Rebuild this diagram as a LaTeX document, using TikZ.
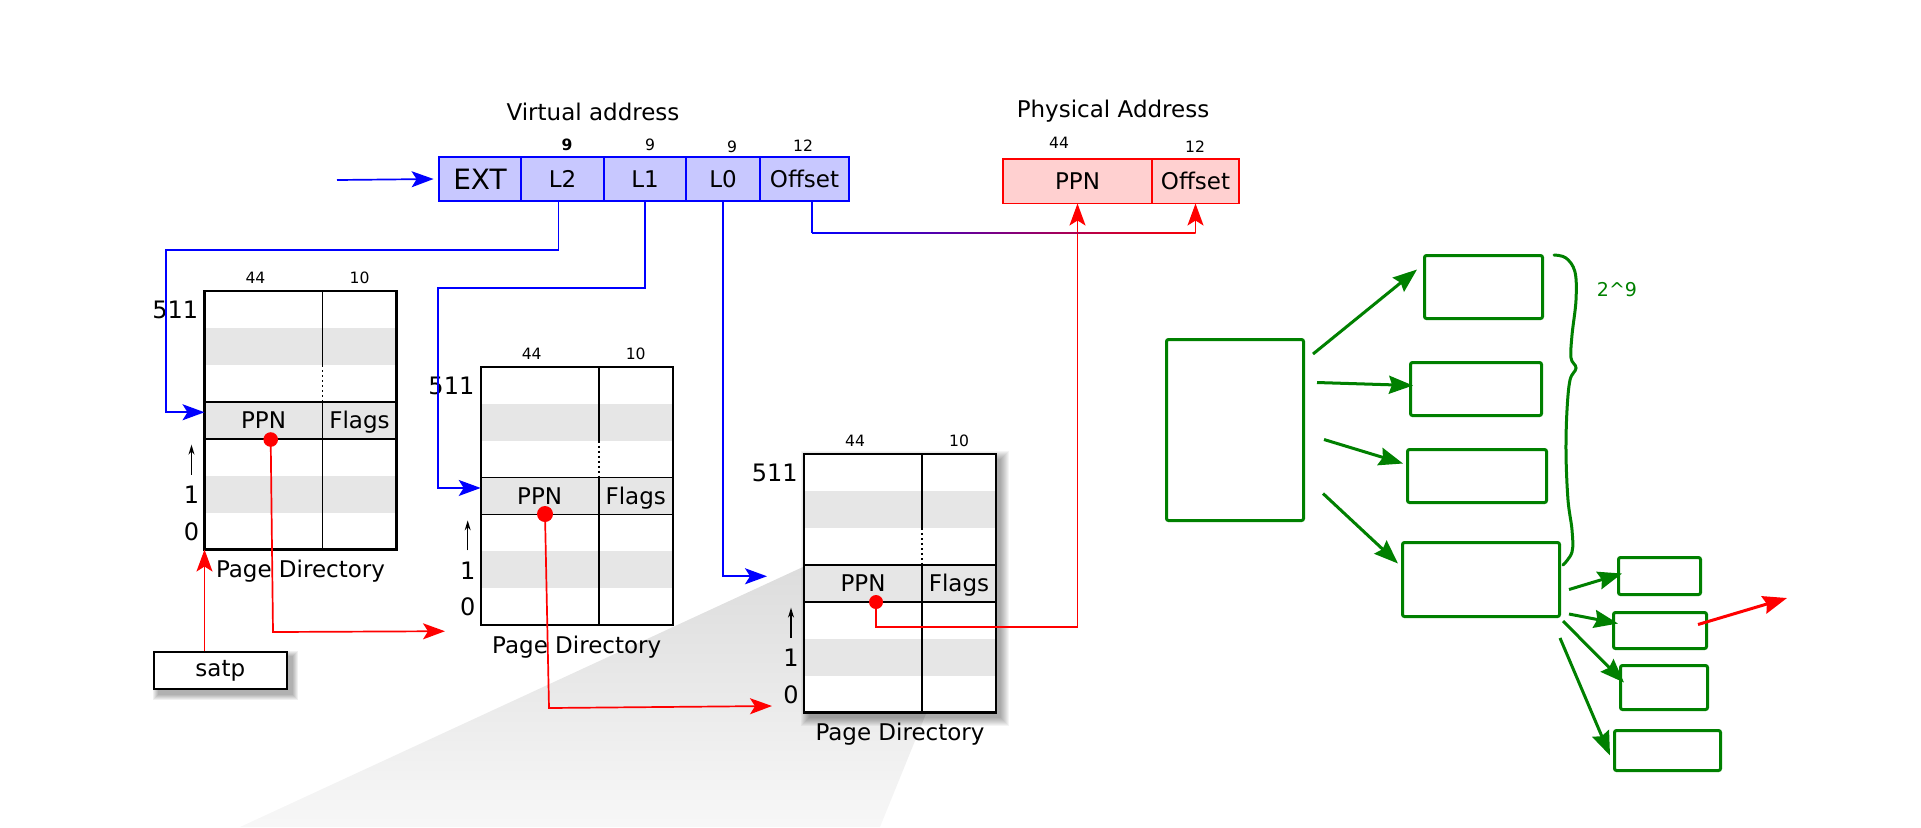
\documentclass[tikz,border=0pt]{standalone}
\usepackage{fontspec}
\setmainfont{DejaVu Sans}
\usetikzlibrary{arrows.meta,positioning,calc,backgrounds}
\definecolor{vafill}{HTML}{C8C8FF}
\definecolor{pafill}{HTML}{FFD0D0}
\definecolor{band}{HTML}{E6E6E6}
\definecolor{ggreen}{HTML}{008000}
\tikzset{
  lbl/.style={font=\fontsize{11.5}{13}\selectfont, inner sep=0pt},
  num/.style={font=\fontsize{7.8}{9}\selectfont, inner sep=0pt},
  idx/.style={font=\fontsize{12}{14}\selectfont, inner sep=0pt},
  vafield/.style={draw=blue, line width=1pt, fill=vafill, minimum height=22pt, inner sep=0pt, outer sep=0pt, font=\fontsize{11.5}{13}\selectfont},
  pafield/.style={draw=red, line width=0.85pt, fill=pafill, minimum height=22.25pt, inner sep=0pt, outer sep=0pt, font=\fontsize{11.5}{13}\selectfont},
  cell/.style={draw, line width=0.85pt, fill=band, minimum height=18.465pt, inner sep=0pt, outer sep=0pt, text height=8.4pt, text depth=0pt, font=\fontsize{11.5}{13}\selectfont},
  cellline/.style={line width=0.85pt},
  blueline/.style={blue, line width=0.85pt, -{Stealth[length=11pt,width=8pt,inset=2.5pt]}},
  redline/.style={red, line width=0.85pt, -{Stealth[length=11pt,width=8pt,inset=2.5pt]}},
  idxarrow/.style={line width=0.6pt, -{Stealth[length=5pt,width=3pt]}},
  reddot/.style={circle, fill=red, inner sep=0pt},
  greenbox/.style={draw=ggreen, line width=1.5pt, rounded corners=1pt, inner sep=0pt},
  greenarrow/.style={ggreen, line width=1.5pt, -{Stealth[length=12pt,width=9pt,inset=1.5pt]}}
}
\begin{document}
\begin{tikzpicture}[x=0.5pt, y=-0.5pt]
\useasboundingbox (0,0) rectangle (1921,827);

% virtual address
\node[vafield, minimum width=41pt, anchor=north west, font=\fontsize{14}{16}\selectfont] (ext) at (439,157) {EXT};
\node[vafield, minimum width=41.5pt, right=0pt of ext] (l2) {L2};
\node[vafield, minimum width=41pt, right=0pt of l2] (l1) {L1};
\node[vafield, minimum width=37pt, right=0pt of l1] (l0) {L0};
\node[vafield, minimum width=44.5pt, right=0pt of l0] (off) {Offset};
\node[lbl] (vaname) at (593,112) {Virtual address};
\node[num, font=\bfseries\fontsize{7.8}{9}\selectfont] (vw2) at (567,145) {9};
\node[num] (vw1) at (650,145) {9};
\node[num] (vw0) at (732,147) {9};
\node[num] (vwo) at (803,146) {12};
\coordinate (vain) at (337,180);
\draw[blueline] (vain) -- ([xshift=-2.7pt]ext.west);

% physical address
\node[pafield, minimum width=74.5pt, anchor=north west] (pppn) at (1003,159) {PPN};
\node[pafield, minimum width=43.5pt, right=0pt of pppn] (poff) {Offset};
\node[lbl] (paname) at (1113,111) {Physical Address};
\node[num] (pw1) at (1059,143) {44};
\node[num] (pw2) at (1195,147) {12};

% page directories
\foreach \n/\x/\y in {ta/204.5/291, tb/480.7/366.7, tc/804/454} {
  \node[minimum width=96pt, minimum height=129.25pt, anchor=north west, fill=white, inner sep=0pt, outer sep=0pt] (\n) at (\x,\y) {};
  \fill[band] (\x,\y+36.93) rectangle ++(192,36.93);
  \fill[band] (\x,\y+184.65) rectangle ++(192,36.93);
  \node[cell, minimum width=59pt, anchor=north west] (\n-ppn) at (\x,\y+110.79) {PPN};
  \node[cell, minimum width=37pt, right=0pt of \n-ppn] (\n-flags) {Flags};
  \draw[cellline] (\n-ppn.north east |- \n.north) -- ++(0,73.86) coordinate (\n-dv);
  \draw[cellline, dash pattern=on 1pt off 1.5pt] (\n-dv) -- (\n-ppn.north east);
  \draw[cellline] (\n-ppn.south east) -- (\n-ppn.south east |- \n.south);
  \draw[line width=1.15pt] (\n.north west) rectangle (\n.south east);
  \node[num] (\n-w1) at (\x+51,\y-13) {44};
  \node[num] (\n-w2) at (\x+155,\y-13) {10};
  \node[idx, anchor=east] (\n-top) at (\x-6,\y+19) {511};
  \node[idx] (\n-one) at (\x-13,\y+204) {1};
  \node[idx] (\n-zero) at (\x-13,\y+240.5) {0};
  \draw[idxarrow] ([yshift=5.6pt]\n-one.north) -- ++(0,-30);
  \node[lbl] (\n-name) at (\x+96,\y+280.5) {Page Directory};
}

\node[draw, line width=1pt, fill=white, minimum width=66.35pt, minimum height=18.35pt, lbl] (satp) at (220.3,670.7) {satp};

\node[reddot, minimum size=7.3pt] (da) at (270.7,439.5) {};
\node[reddot, minimum size=8pt] (db) at (545,514) {};
\node[reddot, minimum size=7pt] (dc) at (876,602) {};

% cone and shadows
\begin{pgfonlayer}{background}
\shade[top color=gray!27, bottom color=gray!6] (805,566) -- (960,630) -- (880,827) -- (240,827) -- cycle;
\foreach \k in {0,...,8}
  \fill[black, opacity=0.045] ([shift={(5-\k,5-\k)}]tc.north west) rectangle ([shift={(5+\k,5+\k)}]tc.south east);
\foreach \k in {0,...,5}
  \fill[black, opacity=0.06] ([shift={(5-\k,5-\k)}]satp.north west) rectangle ([shift={(5+\k,5+\k)}]satp.south east);
\end{pgfonlayer}

% walk
\draw[redline] (satp.north -| ta.south west) -- (ta.south west);
\draw[blueline] ([xshift=-2pt]l2.south) |- (166,250) |- ([yshift=4pt]ta-ppn.west);
\draw[blueline] (l1.south) |- (438,288) |- ([yshift=4pt]tb-ppn.west);
\draw[blueline] (l0.south) |- ([shift={(-37,-7)}]tc-ppn.west);
\draw[redline] (da.center) -- (273,632) -- ([shift={(-35.7,6)}]tb.south west);
\draw[redline] (db.center) -- (549,708) -- ([shift={(-32,-6.5)}]tc.south west);
\draw[redline] (dc.center) -- ++(0,25) -| (pppn.south);
\coordinate (oa) at ([xshift=3.75pt]off.south |- 0,233);
\coordinate (ob) at (poff.south |- 0,233);
\draw[blue, line width=0.85pt] ([xshift=3.75pt]off.south) -- (oa);
\shade[left color=blue, right color=red] ([yshift=0.425pt]oa) rectangle ([yshift=-0.425pt]ob);
\draw[redline] (ob) -- (poff.south);

% tree of tables
\node[greenbox, minimum width=68.5pt, minimum height=90.5pt, anchor=north west] (gtab) at (1165,338) {};
\node[greenbox, minimum width=59pt, minimum height=31.5pt, anchor=north west] (g1) at (1423,254) {};
\node[greenbox, minimum width=65.5pt, minimum height=26.5pt, anchor=north west] (g2) at (1409,361) {};
\node[greenbox, minimum width=69.5pt, minimum height=26.5pt, anchor=north west] (g3) at (1406,448) {};
\node[greenbox, minimum width=78.5pt, minimum height=37pt, anchor=north west] (g4) at (1401,541) {};
\node[greenbox, minimum width=41pt, minimum height=18.5pt, anchor=north west] (s1) at (1617,556) {};
\node[greenbox, minimum width=46.5pt, minimum height=18pt, anchor=north west] (s2) at (1612,611) {};
\node[greenbox, minimum width=43.5pt, minimum height=22pt, anchor=north west] (s3) at (1619,664) {};
\node[greenbox, minimum width=53pt, minimum height=20pt, anchor=north west] (s4) at (1613,729) {};
\draw[greenarrow] ([shift={(8,16)}]gtab.north east) -- ([shift={(-6,-17.5)}]g1.west);
\draw[greenarrow] ([shift={(12,-47.5)}]gtab.east) -- ([shift={(4,-3.5)}]g2.west);
\draw[greenarrow] ([shift={(19,9.5)}]gtab.east) -- ([shift={(-3,-12.5)}]g3.west);
\draw[greenarrow] ([shift={(18,63.5)}]gtab.east) -- ([shift={(-3,-16)}]g4.west);
\draw[greenarrow] ([shift={(8,10)}]g4.east) -- ([shift={(5,-2.5)}]s1.west);
\draw[greenarrow] ([shift={(8,-4)}]g4.south east) -- ([shift={(6,-7)}]s2.west);
\draw[greenarrow] ([shift={(2,3)}]g4.south east) -- ([shift={(5,-5)}]s3.west);
\draw[greenarrow] ([shift={(-1,20)}]g4.south east) -- ([shift={(-3,5)}]s4.west);
\coordinate (gout) at (1787,598);
\draw[greenarrow, red] ([shift={(-10,-6)}]s2.east) -- (gout);
\draw[ggreen, line width=1.5pt, line cap=round] plot[smooth, tension=0.6] coordinates {(1554,255) (1566,258) (1575,272) (1576,300) (1572,335) (1571,358) (1576,368) (1570,380) (1567,410) (1566,453) (1568,500) (1572,530) (1572,552) (1563,565)};
\node[font=\fontsize{9.5}{11}\selectfont, text=ggreen, inner sep=0pt] (gcount) at (1617,290) {2\textasciicircum 9};
\end{tikzpicture}
\end{document}
